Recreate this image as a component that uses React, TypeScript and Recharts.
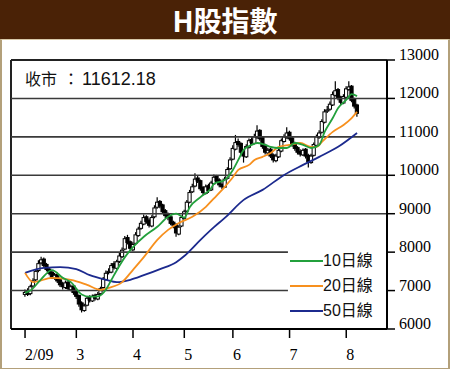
import React from 'react';
import {
  ComposedChart, Bar, Line, XAxis, YAxis, ReferenceLine,
} from 'recharts';

// daily candles, index 0 = 9 Feb
const opens = [
  6900, 7000, 6920, 7120, 7280, 7520, 7720, 7820, 7680, 7560,
  7480, 7320, 7420, 7280, 7180, 7080, 7220, 7020, 7120, 6980,
  6870, 6680, 6480, 6620, 6830, 6730, 6880, 6780, 6920, 7080,
  7290, 7470, 7480, 7700, 7580, 7760, 7880, 8080, 8380, 8270,
  8060, 8230, 8430, 8620, 8730, 8920, 8830, 8680, 8920, 9170,
  9320, 9230, 9080, 8980, 8920, 8780, 8720, 8470, 8680, 8880,
  9070, 9300, 9570, 9720, 9930, 9860, 9680, 9530, 9730, 9620,
  9780, 9970, 9880, 9760, 9690, 9920, 10170, 10420, 10680, 10880,
  10830, 10620, 10480, 10730, 10930, 10830, 10980, 11170, 10980, 10780,
  10580, 10680, 10530, 10380, 10480, 10630, 10880, 10980, 11120, 10970,
  10830, 10720, 10620, 10530, 10680, 10520, 10330, 10520, 10780, 10980,
  11120, 11380, 11680, 11720, 11830, 12080, 12230, 12030, 11880, 12030,
  12230, 12320, 11980, 11830,
];
const highs = [
  7030, 7060, 7150, 7320, 7560, 7790, 7880, 7860, 7720, 7600,
  7530, 7460, 7470, 7320, 7230, 7260, 7270, 7160, 7150, 7020,
  6900, 6720, 6660, 6860, 6880, 6900, 6920, 6960, 7100, 7350,
  7520, 7580, 7720, 7760, 7800, 7980, 8120, 8420, 8450, 8300,
  8260, 8520, 8660, 8820, 8980, 8960, 8880, 8960, 9220, 9430,
  9360, 9260, 9120, 9030, 8960, 8820, 8750, 8700, 8950, 9100,
  9360, 9620, 9780, 10050, 9990, 9890, 9720, 9760, 9780, 9860,
  10020, 10010, 9920, 9810, 9960, 10210, 10470, 10780, 11050, 10960,
  10860, 10660, 10810, 10960, 10990, 11080, 11300, 11200, 11010, 10820,
  10710, 10720, 10570, 10560, 10700, 10960, 11070, 11250, 11160, 11010,
  10870, 10760, 10680, 10700, 10710, 10560, 10560, 10850, 11060, 11170,
  11460, 11720, 11800, 11920, 12180, 12450, 12270, 12070, 12110, 12320,
  12450, 12350, 12020, 11860,
];
const lows = [
  6840, 6860, 6880, 7080, 7250, 7480, 7680, 7600, 7500, 7400,
  7300, 7280, 7200, 7090, 7030, 7040, 6990, 6980, 6890, 6780,
  6580, 6430, 6450, 6590, 6690, 6700, 6740, 6750, 6880, 7050,
  7260, 7420, 7450, 7550, 7540, 7720, 7850, 8050, 8200, 8030,
  8020, 8200, 8400, 8580, 8700, 8740, 8640, 8650, 8880, 9130,
  9140, 8990, 8880, 8830, 8700, 8620, 8400, 8440, 8650, 8850,
  9040, 9270, 9540, 9690, 9800, 9600, 9480, 9500, 9540, 9590,
  9750, 9800, 9690, 9640, 9670, 9890, 10140, 10390, 10650, 10740,
  10540, 10330, 10450, 10700, 10790, 10800, 10950, 10900, 10690, 10540,
  10520, 10450, 10330, 10340, 10450, 10600, 10850, 10950, 10900, 10740,
  10640, 10540, 10490, 10500, 10440, 10200, 10300, 10490, 10750, 10950,
  11090, 11350, 11620, 11680, 11800, 12050, 11950, 11830, 11850, 12000,
  12200, 11900, 11740, 11520,
];
const closes = [
  6950, 6900, 7100, 7250, 7500, 7700, 7800, 7650, 7550, 7450,
  7350, 7400, 7250, 7150, 7100, 7200, 7050, 7100, 6950, 6850,
  6650, 6500, 6600, 6800, 6750, 6850, 6800, 6900, 7050, 7300,
  7450, 7500, 7650, 7600, 7750, 7900, 8050, 8350, 8250, 8100,
  8200, 8450, 8600, 8750, 8900, 8800, 8700, 8900, 9150, 9300,
  9200, 9050, 8950, 8900, 8750, 8700, 8500, 8650, 8900, 9050,
  9300, 9550, 9700, 9900, 9850, 9650, 9550, 9700, 9600, 9800,
  9950, 9850, 9750, 9700, 9900, 10150, 10400, 10700, 10850, 10800,
  10600, 10500, 10750, 10900, 10850, 11000, 11150, 10950, 10750, 10600,
  10650, 10500, 10400, 10500, 10650, 10900, 11000, 11100, 10950, 10800,
  10700, 10600, 10550, 10650, 10500, 10350, 10500, 10800, 11000, 11100,
  11400, 11650, 11700, 11850, 12100, 12200, 12000, 11900, 12050, 12250,
  12300, 11950, 11800, 11612.18,
];

// moving averages at these day indexes
const ma10Days = [0, 2, 6, 10, 14, 17, 21, 24, 27, 30, 32, 34, 37, 40, 44, 49, 53, 56, 59, 61, 65, 69, 70, 74, 77, 79, 81, 84, 86, 89, 91, 94, 97, 100, 103, 106, 109, 111, 114, 116, 119, 121, 123];
const ma10Vals = [6940, 7000, 7300, 7530, 7330, 7220, 6900, 6840, 6850, 7030, 7280, 7530, 7870, 8130, 8400, 8660, 8920, 9000, 8900, 9170, 9430, 9670, 9780, 9880, 10140, 10400, 10660, 10790, 10840, 10790, 10740, 10710, 10710, 10840, 10790, 10710, 10790, 11130, 11490, 11750, 11960, 12110, 12060];
const ma20Days = [0, 3, 10, 17, 23, 28, 31, 36, 40, 44, 49, 53, 57, 62, 67, 70, 74, 77, 79, 83, 85, 88, 91, 94, 98, 102, 106, 108, 110, 114, 118, 121, 123];
const ma20Vals = [7460, 7220, 7330, 7280, 7150, 7020, 7070, 7220, 7540, 7870, 8320, 8580, 8760, 8920, 9180, 9400, 9700, 9950, 10140, 10270, 10400, 10480, 10580, 10740, 10790, 10840, 10740, 10740, 10870, 11130, 11310, 11490, 11650];
const ma50Days = [0, 7, 13, 19, 24, 30, 34, 39, 44, 50, 56, 59, 65, 70, 74, 81, 88, 96, 103, 109, 116, 123];
const ma50Vals = [7460, 7590, 7610, 7560, 7400, 7280, 7220, 7280, 7400, 7560, 7740, 7900, 8320, 8650, 8890, 9360, 9620, 10010, 10270, 10480, 10740, 11100];

const monthDays = [0, 19, 40, 59, 77, 98, 119];
const monthLabels = ['2/09', '3', '4', '5', '6', '7', '8'];
const priceTicks = [6000, 7000, 8000, 9000, 10000, 11000, 12000, 13000];
const fullGrid = [9000, 10000, 11000, 12000];
const shortGrid = [7000, 8000];

const seriesNames = ['10日線', '20日線', '50日線'];
const seriesColors = ['#23a03c', '#f7901e', '#1c2a8e'];

const X_MIN = -5.2;
const X_MAX = 134.1;
const SHORT_GRID_END = 97.4;

const pick = (days: number[], vals: number[], i: number) => {
  const k = days.indexOf(i);
  return k >= 0 ? vals[k] : null;
};

const data = closes.map((c, i) => ({
  i,
  open: opens[i],
  high: highs[i],
  low: lows[i],
  close: c,
  range: [lows[i], highs[i]],
  ma10: pick(ma10Days, ma10Vals, i),
  ma20: pick(ma20Days, ma20Vals, i),
  ma50: pick(ma50Days, ma50Vals, i),
}));

const Candle = (props: any) => {
  const { x, y, width, height, payload } = props;
  if (!payload) return null;
  const top = Math.min(y, y + height);
  const bottom = Math.max(y, y + height);
  const span = payload.high - payload.low || 1;
  const py = (v: number) => top + ((payload.high - v) / span) * (bottom - top);
  const cx = x + width / 2;
  const up = payload.close >= payload.open;
  const bTop = py(Math.max(payload.open, payload.close));
  const bBot = py(Math.min(payload.open, payload.close));
  const w = 3.2;
  return (
    <g>
      <line x1={cx} x2={cx} y1={top} y2={bottom} stroke="#000" strokeWidth={1.2} />
      <rect
        x={cx - w / 2}
        y={bTop}
        width={w}
        height={Math.max(bBot - bTop, 1.2)}
        fill={up ? '#fff' : '#000'}
        stroke="#000"
        strokeWidth={1}
      />
    </g>
  );
};

const MonthTick = ({ x, y, payload }: any) => (
  <text x={x} y={y + 20} fontFamily="'Liberation Serif', serif" fontSize={16} fill="#000" textAnchor="start">
    {monthLabels[monthDays.indexOf(payload.value)]}
  </text>
);

const PriceTick = ({ x, y, payload }: any) => (
  <text x={x} y={y} fontFamily="'Liberation Serif', serif" fontSize={16} fill="#000" textAnchor="start">
    {payload.value}
  </text>
);

export default function App() {
  return (
    <div style={{ position: 'absolute', left: 0, top: 0, width: 450, height: 369, background: '#fff', overflow: 'hidden' }}>
      <div style={{ position: 'absolute', left: 0, top: 39, width: 446, height: 328, borderLeft: '2px solid #b3a07a', borderRight: '2px solid #b3a07a', borderBottom: '2px solid #b3a07a', borderTop: '1px solid #d8c9a8' }} />
      <div style={{
        position: 'absolute', left: 0, top: 0, width: 450, height: 39, background: '#4a2206',
        color: '#fff', textAlign: 'center', fontFamily: "'Noto Sans CJK TC', sans-serif",
        fontWeight: 700, fontSize: 28, lineHeight: '40px',
      }}>
        H股指數
      </div>

      <ComposedChart
        width={450}
        height={369}
        data={data}
        margin={{ top: 60, left: 11, right: 0, bottom: 0 }}
        style={{ position: 'absolute', left: 0, top: 0 }}
      >
        <XAxis
          dataKey="i"
          type="number"
          domain={[X_MIN, X_MAX]}
          ticks={monthDays}
          interval={0}
          height={40}
          tickSize={9}
          tick={<MonthTick />}
          axisLine={{ stroke: '#000', strokeWidth: 2 }}
          tickLine={{ stroke: '#000', strokeWidth: 1.5 }}
          allowDataOverflow
        />
        <YAxis
          orientation="right"
          type="number"
          domain={[6000, 13000]}
          ticks={priceTicks}
          interval={0}
          width={63}
          tickSize={8}
          tickMargin={4}
          tick={<PriceTick />}
          axisLine={{ stroke: '#000', strokeWidth: 2 }}
          tickLine={{ stroke: '#000', strokeWidth: 1.5 }}
        />
        <ReferenceLine y={13000} stroke="#222" strokeWidth={2} />
        <ReferenceLine x={X_MIN} stroke="#222" strokeWidth={2} />
        {fullGrid.map((v) => (
          <ReferenceLine key={v} y={v} stroke="#3a3a3a" strokeWidth={1.6} />
        ))}
        {shortGrid.map((v) => (
          <ReferenceLine key={v} segment={[{ x: X_MIN, y: v }, { x: SHORT_GRID_END, y: v }]} stroke="#3a3a3a" strokeWidth={1.6} />
        ))}
        <Bar dataKey="range" barSize={3} shape={<Candle />} isAnimationActive={false} />
        <Line dataKey="ma50" type="monotone" stroke={seriesColors[2]} strokeWidth={1.8} dot={false} connectNulls isAnimationActive={false} />
        <Line dataKey="ma20" type="monotone" stroke={seriesColors[1]} strokeWidth={1.8} dot={false} connectNulls isAnimationActive={false} />
        <Line dataKey="ma10" type="monotone" stroke={seriesColors[0]} strokeWidth={1.8} dot={false} connectNulls isAnimationActive={false} />
      </ComposedChart>

      <div style={{ position: 'absolute', left: 25, top: 67, lineHeight: '22px', fontFamily: "'Liberation Sans', 'Noto Sans CJK TC', sans-serif", fontSize: 18, color: '#111' }}>
        <span style={{ fontFamily: "'Noto Sans CJK TC', sans-serif", fontSize: 16 }}>收市</span>
        <span style={{ fontFamily: "'Noto Sans CJK TC', sans-serif", fontSize: 16, marginLeft: 6 }}>：</span>
        <span style={{ marginLeft: 3 }}>11612.18</span>
      </div>

      <div style={{ position: 'absolute', left: 290, top: 248 }}>
        {seriesNames.map((name, k) => (
          <div key={name} style={{ display: 'flex', alignItems: 'center', height: 25 }}>
            <div style={{ width: 33, height: 2, background: seriesColors[k] }} />
            <span style={{ fontFamily: "'Liberation Sans', 'Noto Sans CJK TC', sans-serif", fontSize: 16, color: '#111', lineHeight: '25px' }}>
              {name}
            </span>
          </div>
        ))}
      </div>
    </div>
  );
}
